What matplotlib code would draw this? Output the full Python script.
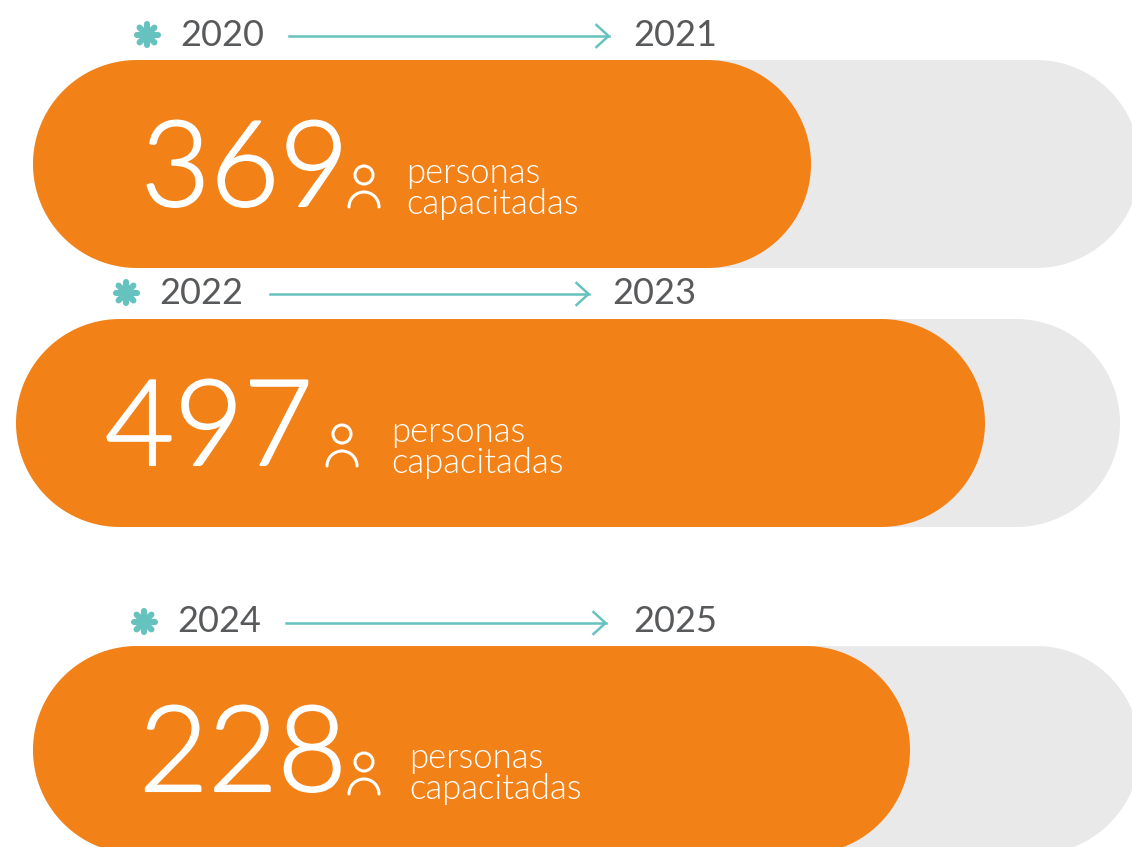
import numpy as np
import matplotlib
matplotlib.use('Agg')
import matplotlib.pyplot as plt
import matplotlib.patheffects as pe
from matplotlib.patches import Polygon, Circle, Arc

# data
start_years = ['2020', '2022', '2024']
end_years = ['2021', '2023', '2025']
people = [369, 497, 228]
unit_lines = ['personas', 'capacitadas']

# layout, in reference pixels
bar_left = [33, 16, 33]
bar_right = [811, 985, 910]
track_right = [1140, 1120, 1140]
bar_top = [60, 319, 646]
year_x = [180, 159, 177]
year_y = [33, 291, 620]
end_year_x = [633, 612, 633]
arrow_x = [289, 270, 286]
arrow_end = [608.5, 588.5, 605.5]
star_x = [147, 126, 144]
num_x = [141, 105, 139]
num_base = [206, 465, 791]
icon_x = [364, 342, 364]
icon_y = [175, 434, 762]
unit_x = [406, 391, 409]
unit_y = [173, 432, 758]

BAR_H = 208
ORANGE = '#f28118'
GREY = '#e9e9ea'
TEAL = '#66c2bf'
DARK = '#58595b'
FONT = ['Lato', 'DejaVu Sans']

fig = plt.figure(figsize=(11.32, 8.47), dpi=100)
ax = fig.add_axes([0, 0, 1, 1])
ax.set_xlim(0, 1132)
ax.set_ylim(847, 0)
ax.axis('off')


def pill(x0, x1, top, color, z):
    r = BAR_H / 2
    t = np.linspace(-np.pi / 2, np.pi / 2, 90)
    xs = np.r_[x1 - r + r * np.cos(t), x0 + r - r * np.cos(t)]
    ys = np.r_[top + r + r * np.sin(t), top + r + r * np.sin(t)[::-1]]
    ax.add_patch(Polygon(np.column_stack([xs, ys]), closed=True, fc=color, ec='none', zorder=z))


def star(x, y):
    for a in np.arange(4) * np.pi / 4:
        dx, dy = 10.5 * np.cos(a), 10.5 * np.sin(a)
        ax.plot([x - dx, x + dx], [y - dy, y + dy], color=TEAL, lw=4.4, solid_capstyle='round', zorder=3)
    ax.add_patch(Circle((x, y), 7, fc=TEAL, ec='none', zorder=3))


def person(x, y):
    ax.add_patch(Circle((x, y), 9, fc='none', ec='white', lw=2.2, zorder=4))
    ax.add_patch(Arc((x, y + 32), 30, 30, theta1=180, theta2=360, ec='white', lw=2.2, zorder=4,
                     capstyle='round'))


for i in range(3):
    pill(bar_left[i] + 100, track_right[i], bar_top[i], GREY, 1)
    pill(bar_left[i], bar_right[i], bar_top[i], ORANGE, 2)

    star(star_x[i], year_y[i] + 2)
    ax.text(year_x[i], year_y[i] + 12.5, start_years[i], color=DARK, fontsize=26, family=FONT, va='baseline')
    ax.text(end_year_x[i], year_y[i] + 12.5, end_years[i], color=DARK, fontsize=26, family=FONT, va='baseline')

    ay = year_y[i] + 3
    ax.plot([arrow_x[i], arrow_end[i]], [ay, ay], color=TEAL, lw=1.8, zorder=3)
    ax.plot([arrow_end[i] - 12, arrow_end[i], arrow_end[i] - 12], [ay - 11, ay, ay + 11], color=TEAL, lw=1.8, zorder=3)

    num = ax.text(num_x[i], num_base[i], str(people[i]), color='white', fontsize=86, family=FONT, weight=300,
                  va='baseline', zorder=4)
    num.set_path_effects([pe.withStroke(linewidth=1.5, foreground='white')])
    person(icon_x[i], icon_y[i])
    ax.text(unit_x[i], unit_y[i] + 10, unit_lines[0], color='white', fontsize=25, family=FONT, weight=300,
            va='baseline', zorder=4)
    ax.text(unit_x[i], unit_y[i] + 41, unit_lines[1], color='white', fontsize=25, family=FONT, weight=300,
            va='baseline', zorder=4)

fig.savefig('out.png', dpi=100)
